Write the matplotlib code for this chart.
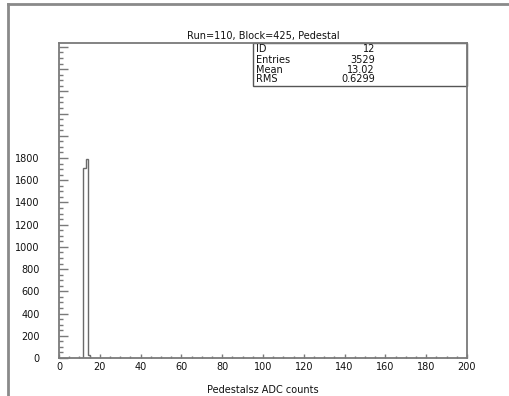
import matplotlib
matplotlib.use("Agg")
import matplotlib.pyplot as plt
from matplotlib.lines import Line2D
from matplotlib.patches import Rectangle
from matplotlib.ticker import MultipleLocator
import numpy as np

# Histogram contents (unit-width bins)
bin_edges = [11, 12, 13, 14, 15]
bin_counts = [4, 1710, 1790, 25]

title = "Run=110, Block=425, Pedestal"
xlabel = "Pedestalsz ADC counts"
stat_names = ["ID", "Entries", "Mean", "RMS"]
stat_values = ["12", "3529", "13.02", "0.6299"]

xticks = [0, 20, 40, 60, 80, 100, 120, 140, 160, 180, 200]
yticks = [0, 200, 400, 600, 800, 1000, 1200, 1400, 1600, 1800]
x_range = (0, 200)
y_range = (0, 2835)

W, H = 509, 396
fig = plt.figure(figsize=(W / 100, H / 100), dpi=100)
fig.patch.set_facecolor("white")

axis_color = "#7a7a7a"
text_color = "#111111"
fs = 7

# outer page frame
fig.add_artist(Line2D([8 / W, 1.0], [1 - 4 / H, 1 - 4 / H], transform=fig.transFigure,
                      color="#8a8a8a", lw=2))
fig.add_artist(Line2D([8 / W, 8 / W], [0, 1 - 4 / H], transform=fig.transFigure,
                      color="#8a8a8a", lw=2))

left, right, bottom, top = 59 / W, 467 / W, 1 - 358 / H, 1 - 43 / H
ax = fig.add_axes([left, bottom, right - left, top - bottom])
ax.set_xlim(*x_range)
ax.set_ylim(*y_range)

ax.stairs(bin_counts, bin_edges, baseline=0, color="#6a6a6a", lw=1.0)

for s in ax.spines.values():
    s.set_color(axis_color)
    s.set_linewidth(1.3)

ax.set_xticks(xticks)
ax.set_xticklabels([str(v) for v in xticks])
ax.xaxis.set_minor_locator(MultipleLocator(5))
major_y = list(yticks) + list(np.arange(2000, y_range[1], 200))
ax.set_yticks(major_y)
ax.set_yticklabels([str(v) for v in yticks] + [""] * (len(major_y) - len(yticks)))
ax.yaxis.set_minor_locator(MultipleLocator(50))

ax.tick_params(axis="x", which="major", direction="in", length=3.2, width=1.0,
               color=axis_color, labelsize=fs, labelcolor=text_color, pad=3)
ax.tick_params(axis="x", which="minor", direction="in", length=1.6, width=1.0,
               color=axis_color)
ax.tick_params(axis="y", which="major", direction="in", length=6.5, width=1.0,
               color=axis_color, labelsize=fs, labelcolor=text_color, pad=14)
ax.tick_params(axis="y", which="minor", direction="in", length=3.0, width=1.0,
               color=axis_color)

ax.set_title(title, fontsize=fs, color=text_color, pad=3)
ax.set_xlabel(xlabel, fontsize=fs, color=text_color, labelpad=9)

# statistics box in the upper right corner
bx0, by0 = (252.7 - 59) / 408, (358 - 86) / 315
ax.add_patch(Rectangle((bx0, by0), 1 - bx0, 1 - by0, transform=ax.transAxes,
                       fill=False, edgecolor="#555555", lw=1.0, clip_on=False))
row_y = [49.3, 60, 70, 79.3]
for name, val, ypix in zip(stat_names, stat_values, row_y):
    yf = (358 - ypix) / 315
    ax.text((256 - 59) / 408, yf, name, transform=ax.transAxes, fontsize=fs,
            color=text_color, ha="left", va="center")
    ax.text((375 - 59) / 408, yf, val, transform=ax.transAxes, fontsize=fs,
            color=text_color, ha="right", va="center")

fig.savefig("out.png", dpi=100, facecolor="white")
